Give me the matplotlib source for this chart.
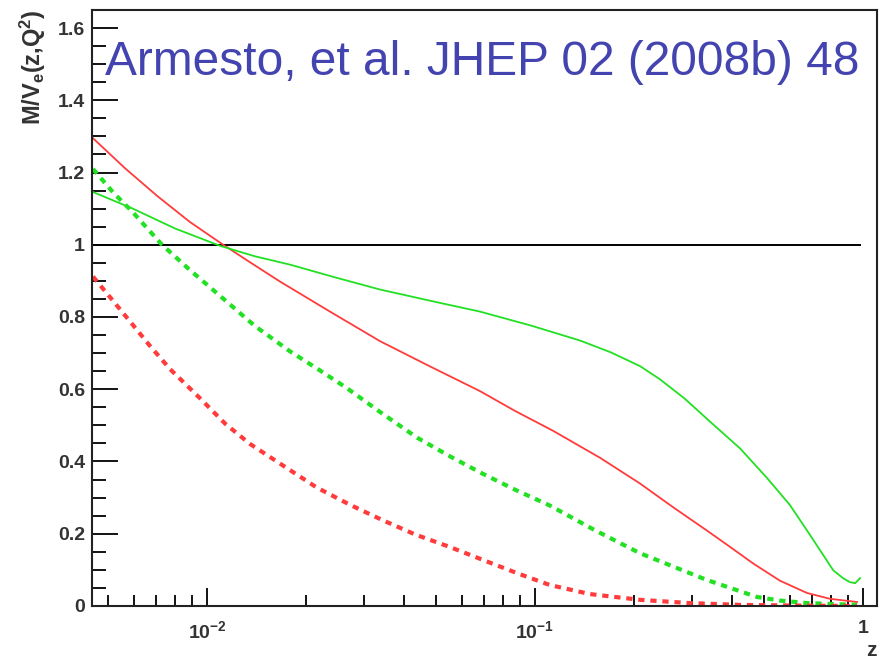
import matplotlib
matplotlib.use("Agg")
import matplotlib.pyplot as plt
from matplotlib.ticker import FixedLocator, LogLocator, NullFormatter, FixedFormatter

plt.rcParams['font.family'] = ['Liberation Sans', 'DejaVu Sans']
plt.rcParams['mathtext.fontset'] = 'custom'
plt.rcParams['mathtext.rm'] = 'Liberation Sans:bold'
plt.rcParams['mathtext.it'] = 'Liberation Sans:bold'
plt.rcParams['mathtext.bf'] = 'Liberation Sans:bold'

# values
red_z = [0.00449, 0.00562, 0.00705, 0.00887, 0.0112, 0.0135, 0.0167, 0.0237,
         0.0337, 0.0479, 0.0679, 0.0869, 0.1135, 0.158, 0.209, 0.264, 0.334,
         0.394, 0.462, 0.558, 0.675, 0.792, 0.959]
red_y = [1.295, 1.212, 1.135, 1.063, 1.0, 0.952, 0.898, 0.815,
         0.733, 0.663, 0.595, 0.54, 0.485, 0.41, 0.339, 0.273, 0.209,
         0.163, 0.118, 0.070, 0.036, 0.020, 0.011]

green_z = [0.00449, 0.00594, 0.00799, 0.01096, 0.0140, 0.0179, 0.0245, 0.0337,
           0.0479, 0.0679, 0.0966, 0.137, 0.1694, 0.209, 0.240, 0.286, 0.342,
           0.422, 0.509, 0.598, 0.675, 0.740, 0.811, 0.869, 0.912, 0.946, 0.979]
green_y = [1.146, 1.10, 1.045, 0.997, 0.968, 0.945, 0.91, 0.876,
           0.845, 0.815, 0.777, 0.735, 0.703, 0.664, 0.628, 0.574, 0.51,
           0.436, 0.355, 0.28, 0.209, 0.154, 0.099, 0.077, 0.066, 0.063, 0.077]

green_d_z = [0.00449, 0.00517, 0.00594, 0.00729, 0.00887, 0.0112, 0.0140, 0.0179,
             0.0221, 0.0267, 0.0337, 0.0437, 0.0551, 0.0693, 0.0869, 0.111,
             0.152, 0.209, 0.271, 0.334, 0.394, 0.475, 0.558, 0.675, 0.959]
green_d_y = [1.21, 1.145, 1.09, 1.0, 0.93, 0.851, 0.775, 0.705,
             0.652, 0.603, 0.537, 0.466, 0.414, 0.366, 0.322, 0.278,
             0.21, 0.146, 0.105, 0.072, 0.05, 0.025, 0.015, 0.008, 0.003]

red_d_z = [0.00449, 0.00506, 0.00582, 0.00670, 0.00771, 0.00952, 0.01135, 0.0135,
           0.0173, 0.0216, 0.0273, 0.0344, 0.0431, 0.0551, 0.0705, 0.0881,
           0.111, 0.147, 0.209, 0.297, 0.422, 0.643, 0.959]
red_d_y = [0.912, 0.855, 0.788, 0.72, 0.656, 0.575, 0.505, 0.449,
           0.385, 0.328, 0.28, 0.237, 0.198, 0.163, 0.125, 0.091,
           0.058, 0.033, 0.017, 0.008, 0.003, 0.001, 0.0]

y_ticks = [0, 0.2, 0.4, 0.6, 0.8, 1.0, 1.2, 1.4, 1.6]
y_labels = ['0', '0.2', '0.4', '0.6', '0.8', '1', '1.2', '1.4', '1.6']
x_ticks = [0.01, 0.1, 1.0]
x_labels = ['10$^{-2}$', '10$^{-1}$', '1']

title = 'Armesto, et al. JHEP 02 (2008b) 48'

fig = plt.figure(figsize=(8.88, 6.63), dpi=100)
ax = fig.add_axes([0.1036, 0.086, 0.884, 0.899])

red = '#ff3b3b'
green = '#22e022'
ax.plot([0.00446, 0.98], [1, 1], color='black', lw=1.4)
ax.plot(red_z, red_y, color=red, lw=1.3)
ax.plot(green_z, green_y, color=green, lw=1.3)
ax.plot(green_d_z, green_d_y, color=green, lw=3.0, dashes=(1.5, 1.4))
ax.plot(red_d_z, red_d_y, color=red, lw=3.0, dashes=(1.5, 1.4))

ax.set_xscale('log')
ax.set_xlim(0.00446, 1.103)
ax.set_ylim(0, 1.65)

ax.yaxis.set_major_locator(FixedLocator(y_ticks))
ax.yaxis.set_major_formatter(FixedFormatter(y_labels))
ax.yaxis.set_minor_locator(FixedLocator([i * 0.05 for i in range(34)]))
ax.xaxis.set_major_locator(FixedLocator(x_ticks))
ax.xaxis.set_major_formatter(FixedFormatter(x_labels))
ax.xaxis.set_minor_locator(LogLocator(base=10, subs=range(2, 10)))
ax.xaxis.set_minor_formatter(NullFormatter())

ax.tick_params(axis='both', which='both', direction='in', top=False, right=False,
               color='black', width=1.3)
ax.tick_params(axis='y', which='major', length=19, pad=5, labelsize=14,
               labelcolor='#333333')
ax.tick_params(axis='y', which='minor', length=10)
ax.tick_params(axis='x', which='major', length=13, pad=10, labelsize=14,
               labelcolor='#333333')
ax.tick_params(axis='x', which='minor', length=8)
for lab in ax.get_yticklabels() + ax.get_xticklabels():
    lab.set_fontweight('bold')

for s in ax.spines.values():
    s.set_linewidth(1.5)
    s.set_color('#222222')

ax.set_ylabel('M/V$_{e}$(z,Q$^{2}$)', fontsize=17, fontweight='bold', loc='top',
              color='#333333')
ax.yaxis.set_label_coords(-0.056, 1.0)
ax.set_xlabel('z', fontsize=15, fontweight='bold', loc='right', color='#333333')
ax.xaxis.set_label_coords(1.0, -0.058)

ax.text(0.0166, 0.891, title, transform=ax.transAxes, fontsize=34.5,
        color='#4444b0', va='baseline', ha='left')

fig.savefig('out.png', dpi=100)
